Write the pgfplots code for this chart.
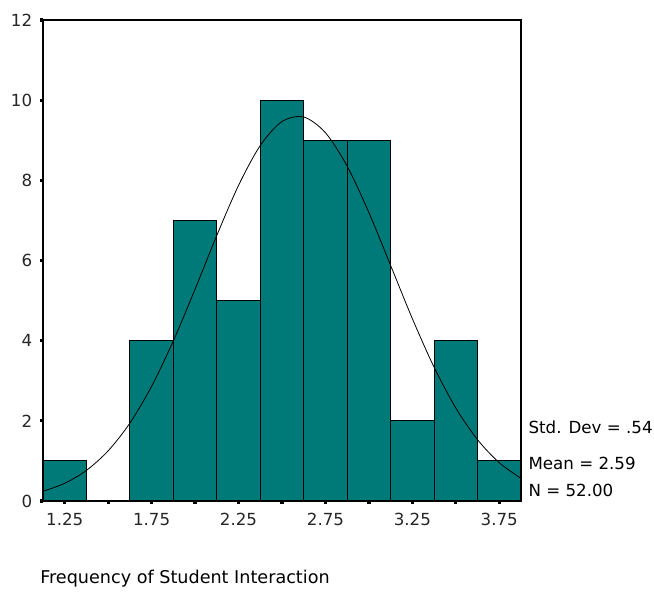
\documentclass[border=0pt]{standalone}
\usepackage{pgfplots}
\pgfplotsset{compat=1.18}
\usepackage{fontspec}
\setmainfont{DejaVu Sans}
\definecolor{barteal}{RGB}{0,122,120}

% Histogram counts per bin (bin width 0.25, edges 1.125 ... 3.875)
\pgfplotstableread{
x      n
1.125  1
1.375  0
1.625  4
1.875  7
2.125  5
2.375  10
2.625  9
2.875  9
3.125  2
3.375  4
3.625  1
3.875  1
}\histdata

\begin{document}
\begin{tikzpicture}
\begin{axis}[
  scale only axis,
  width=358.5pt, height=360.75pt,
  xmin=1.125, xmax=3.875,
  ymin=0, ymax=12,
  xtick={1.25,1.5,1.75,2.0,2.25,2.5,2.75,3.0,3.25,3.5,3.75},
  xticklabels={1.25,,1.75,,2.25,,2.75,,3.25,,3.75},
  ytick={0,2,4,6,8,10,12},
  tick pos=left,
  tick align=outside,
  major tick length=2.6pt,
  tick style={black, line width=2.4pt},
  axis line style={black, line width=1pt},
  ticklabel style={font=\fontsize{12.5}{14}\selectfont, text=black!85},
  /pgf/number format/assume math mode=true,
  xticklabel style={yshift=-3pt},
  yticklabel style={xshift=-2pt},
  clip=false,
]
\addplot[ybar interval, fill=barteal, draw=black, line width=0.8pt]
  table[x=x, y=n] {\histdata};

% Fitted normal curve (mean 2.59, sd 0.54, N = 52)
\addplot[black, line width=0.6pt, smooth] coordinates {
  (1.125,0.242) (1.25,0.442) (1.375,0.764) (1.5,1.252) (1.625,1.944)
  (1.75,2.863) (1.875,3.996) (2.0,5.285) (2.125,6.626) (2.25,7.874)
  (2.375,8.869) (2.5,9.467) (2.625,9.580) (2.75,9.187)
  (2.875,8.352) (3.0,7.196) (3.125,5.876) (3.25,4.549) (3.375,3.337)
  (3.5,2.320) (3.625,1.529) (3.75,0.955) (3.875,0.565)
};

\node[anchor=west, font=\fontsize{12.5}{14}\selectfont, inner sep=0pt]
  at ([xshift=5.5pt]rel axis cs:1,0.154) {Std. Dev = .54};
\node[anchor=west, font=\fontsize{12.5}{14}\selectfont, inner sep=0pt]
  at ([xshift=5.5pt]rel axis cs:1,0.079) {Mean = 2.59};
\node[anchor=west, font=\fontsize{12.5}{14}\selectfont, inner sep=0pt]
  at ([xshift=5.5pt]rel axis cs:1,0.023) {N = 52.00};

\node[anchor=west, font=\fontsize{13.2}{15}\selectfont, inner sep=0pt]
  at ([xshift=-2.25pt, yshift=-58.5pt]rel axis cs:0,0) {Frequency of Student Interaction};

\coordinate (bl) at (rel axis cs:0,0);
\coordinate (tr) at (rel axis cs:1,1);
\end{axis}
\pgfresetboundingbox
\path[use as bounding box] ([shift={(-32.25pt,-72pt)}]bl) rectangle ([shift={(99.75pt,15pt)}]tr);
\end{tikzpicture}
\end{document}
